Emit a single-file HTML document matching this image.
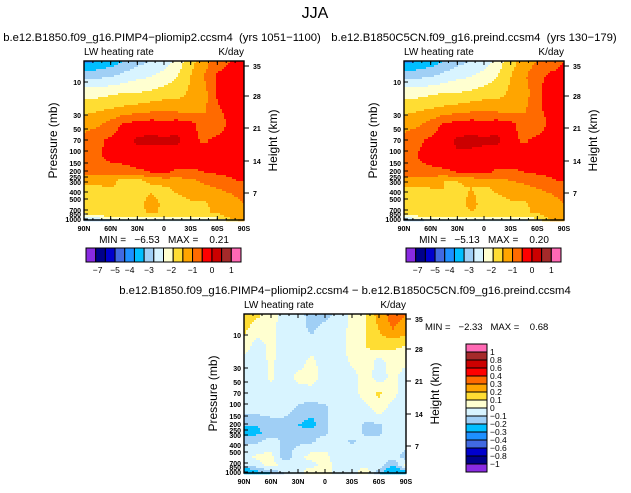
<!DOCTYPE html>
<html><head><meta charset="utf-8"><style>
body{margin:0;background:#fff;width:631px;height:493px;overflow:hidden;position:relative;font-family:"Liberation Sans",sans-serif}
text{white-space:pre}
</style></head><body>
<svg id="s" width="631" height="493" style="position:absolute;left:0;top:0" font-family="Liberation Sans, sans-serif"></svg>
<script>
const colors=["#8a2be2","#00008b","#0000cd","#4169e1","#1e90ff","#00bfff","#a0cff5","#d8f4ff","#ffffd0","#ffdd33","#ffa500","#ff6a00","#ff0000","#cc0000","#a52a2a","#ff69b4"];
const boundsTop=[-7,-6,-5,-4.5,-4,-3.5,-3,-2.5,-2,-1.5,-1,-0.5,0,0.5,1];
const boundsDiff=[-1,-0.8,-0.6,-0.4,-0.3,-0.2,-0.1,0,0.1,0.2,0.3,0.4,0.6,0.8,1];
const topLabels=["-7","-5","-4","-3","-2","-1","0","1"];
const diffLabels=["1","0.8","0.6","0.4","0.3","0.2","0.1","0","-0.1","-0.2","-0.3","-0.4","-0.6","-0.8","-1"];
const latLabels=["90N","60N","30N","0","30S","60S","90S"];
const presLabels=["10","30","50","70","100","150","200","250","300","400","500","700","850","1000"];
const presPos=[21,54,68,79,90,102,110,116,121,131,138,149,153,158];
const hgtLabels=["35","28","21","14","7"];
const hgtPos=[5,35,67,100,132];
const rowPos=[0,16,32,48,64,80,96,112,120,128,144,152,157,160];
const fieldA=[
[-4.2,-4,-3.8,-3.5,-3.2,-3,-2.8,-2.3,-1.7,-1.2,-0.8,-0.5,-0.3],
[-3.2,-3.1,-3,-2.8,-2.6,-2.5,-2.3,-2,-1.5,-1,-0.4,-0.2,-0.2],
[-2.2,-2.2,-2.1,-2,-2,-1.9,-1.8,-1.7,-1.4,-1.2,-0.4,-0.2,-0.2],
[-1.7,-1.6,-1.5,-1.4,-1.3,-1.2,-1.1,-1.2,-1.3,-1.1,-0.6,-0.2,-0.2],
[-1.2,-1.1,-0.8,-0.4,-0.3,-0.2,-0.3,-0.2,-0.3,-0.8,-0.9,-0.3,-0.2],
[-0.8,-0.6,-0.4,-0.2,0.1,0.1,0.1,0.1,-0.3,-0.6,-0.3,-0.2,-0.2],
[-0.7,-0.6,-0.3,-0.3,-0.2,-0.2,-0.3,-0.2,-0.2,-0.2,-0.2,-0.2,-0.2],
[-0.8,-0.8,-0.8,-0.7,-0.6,-0.5,-0.4,-0.6,-0.6,-0.5,-0.4,-0.3,-0.3],
[-1.3,-1.3,-1.4,-1.6,-1.6,-1.4,-1.2,-1.2,-1.1,-0.9,-0.8,-0.6,-0.4],
[-1.6,-1.6,-1.5,-1.6,-1.7,-1.6,-1.6,-1.4,-1.2,-1.1,-1.0,-0.9,-0.8],
[-1.7,-1.6,-1.7,-1.8,-1.7,-1.3,-1.6,-1.7,-1.6,-1.6,-1.3,-1.2,-1.0],
[-1.8,-1.6,-1.7,-1.8,-1.7,-1.4,-1.6,-1.7,-1.6,-1.6,-1.4,-1.2,-1.0],
[-2.4,-2.2,-2.0,-2.0,-1.9,-1.9,-1.9,-1.9,-2.0,-2.1,-1.8,-1.3,-1.0],
[-3.5,-3.2,-3,-2.6,-2.6,-2.6,-2.6,-2.6,-2.6,-2.6,-2.4,-1.8,-1.2]];
const fieldB=[
[-4.2,-4,-3.8,-3.5,-3.2,-3,-2.8,-2.3,-1.7,-1.3,-1.0,-0.7,-0.5],
[-3.2,-3.1,-3,-2.8,-2.6,-2.5,-2.3,-2,-1.5,-1.1,-0.6,-0.4,-0.4],
[-2.2,-2.2,-2.1,-2,-2,-1.9,-1.8,-1.7,-1.4,-1.3,-0.6,-0.3,-0.3],
[-1.7,-1.6,-1.5,-1.4,-1.3,-1.2,-1.1,-1.2,-1.3,-1.1,-0.6,-0.3,-0.2],
[-1.2,-1.1,-0.8,-0.4,-0.3,-0.2,-0.3,-0.2,-0.3,-0.8,-0.9,-0.3,-0.2],
[-0.8,-0.6,-0.4,-0.2,0.1,0.1,0.1,0.1,-0.3,-0.6,-0.3,-0.2,-0.2],
[-0.6,-0.5,-0.2,-0.2,-0.1,-0.1,-0.2,-0.2,-0.2,-0.2,-0.2,-0.2,-0.2],
[-0.7,-0.7,-0.7,-0.6,-0.5,-0.4,-0.4,-0.6,-0.6,-0.5,-0.4,-0.3,-0.3],
[-1.2,-1.2,-1.3,-1.5,-1.5,-1.3,-1.1,-1.1,-1.0,-0.9,-0.8,-0.6,-0.4],
[-1.6,-1.6,-1.5,-1.5,-1.6,-1.5,-1.6,-1.4,-1.2,-1.1,-1.0,-0.9,-0.8],
[-1.7,-1.6,-1.7,-1.8,-1.7,-1.4,-1.6,-1.7,-1.6,-1.6,-1.3,-1.2,-1.0],
[-1.8,-1.6,-1.7,-1.8,-1.7,-1.5,-1.6,-1.7,-1.6,-1.6,-1.4,-1.2,-1.0],
[-2.3,-2.1,-2.0,-2.0,-1.9,-1.9,-1.9,-1.9,-2.0,-2.1,-1.8,-1.3,-1.0],
[-3.2,-3.1,-2.9,-2.6,-2.6,-2.6,-2.6,-2.6,-2.6,-2.6,-2.2,-1.5,-1.0]];
const fieldD=[
[0.15,0.12,0.05,-0.05,-0.05,-0.15,-0.15,-0.05,0.02,0.1,0.25,0.35,0.3],
[0.12,0.05,0.03,-0.05,-0.05,-0.12,-0.05,-0.05,0.03,0.1,0.2,0.3,0.25],
[0.05,-0.05,0.03,-0.05,-0.05,-0.05,-0.05,-0.05,0.05,0.1,0.15,0.12,0.1],
[-0.05,-0.05,0.02,-0.05,-0.05,0.03,-0.05,-0.05,0.02,0.08,-0.05,0.05,0.02],
[-0.05,-0.05,0.02,-0.05,0.03,0.05,-0.05,-0.05,-0.05,0.05,-0.05,0.03,-0.05],
[-0.05,-0.05,-0.05,-0.05,-0.05,-0.05,-0.05,-0.05,-0.05,0.05,0.12,0.03,-0.05],
[-0.05,-0.05,-0.05,-0.05,-0.12,-0.15,-0.12,-0.05,-0.05,-0.05,0.05,-0.05,-0.05],
[-0.2,-0.2,-0.15,-0.15,-0.2,-0.25,-0.12,-0.05,-0.05,-0.12,-0.12,-0.05,-0.05],
[-0.25,-0.22,-0.15,-0.12,-0.15,-0.12,-0.12,-0.05,-0.05,-0.12,-0.12,-0.05,-0.05],
[-0.12,-0.12,-0.05,-0.12,-0.12,-0.12,-0.05,-0.05,-0.12,-0.05,-0.05,-0.05,-0.05],
[-0.05,0.03,0.03,-0.15,-0.05,0.05,0.03,-0.05,-0.05,-0.05,-0.05,-0.05,-0.15],
[-0.05,-0.05,0.05,-0.05,-0.05,-0.05,0.05,-0.05,-0.05,-0.05,-0.05,-0.2,0.05],
[-0.3,-0.15,-0.1,-0.05,-0.05,0.05,0.05,-0.05,-0.05,0.05,-0.1,-0.3,-0.2],
[-0.3,-0.3,-0.2,-0.1,-0.05,0.05,0.05,-0.05,-0.05,0.05,-0.2,-0.3,-0.3]];

const S=document.getElementById('s'),NS="http://www.w3.org/2000/svg";
function el(t,a,p){const e=document.createElementNS(NS,t);for(const k in a)e.setAttribute(k,a[k]);(p||S).appendChild(e);return e;}
function txt(x,y,s,sz,anchor,name,rot,bold){const e=el('text',{x:x,y:y,'font-size':sz,'text-anchor':anchor||'start',fill:'#000'});if(bold)e.setAttribute('font-weight','bold');e.textContent=s;if(rot)e.setAttribute('transform','rotate(-90 '+x+' '+y+')');


return e;}
function colorOf(v,b){let i=0;while(i<b.length&&v>=b[i])i++;return colors[i];}
function sample(f,fx,py){const C=f[0].length-1;const x=fx*C;const i=Math.min(Math.floor(x),C-1),u=x-i;
 let j=0;while(j<rowPos.length-2&&py>rowPos[j+1])j++;const v=Math.min(1,Math.max(0,(py-rowPos[j])/(rowPos[j+1]-rowPos[j])));
 return f[j][i]*(1-u)*(1-v)+f[j][i+1]*u*(1-v)+f[j+1][i]*(1-u)*v+f[j+1][i+1]*u*v;}
function panel(name,x0,y0,w,h,f,b,title,tx){
 const g=el('g',{});
 
 
 const st=2;
 for(let yy=0;yy<h;yy+=st)for(let xx=0;xx<w;xx+=st){
  const v=sample(f,(xx+1)/w,(yy+1)*160/h);
  el('rect',{x:x0+xx,y:y0+yy,width:st+0.3,height:st+0.3,fill:colorOf(v,b)},g);}
 const fr=el('rect',{x:x0,y:y0,width:w,height:h,fill:'none',stroke:'#000','stroke-width':1.4});
 
 
 if(title)txt(tx,y0-20,title,11.3,'middle',name+'-title');
 txt(x0,y0-6,'LW heating rate',10,'start',name+'-field-label');
 txt(x0+w,y0-6,'K/day',10,'end',name+'-units');
 latLabels.forEach((l,i)=>{const x=x0+w*i/6;txt(x,y0+h+11,l,7,'middle','lat-tick-label',false,true);
  el('line',{x1:x,y1:y0+h,x2:x,y2:y0+h-4,stroke:'#000'});el('line',{x1:x,y1:y0,x2:x,y2:y0+4,stroke:'#000'});});
 for(let i=0;i<=18;i++){const x=x0+w*i/18;el('line',{x1:x,y1:y0,x2:x,y2:y0+2,stroke:'#000'});el('line',{x1:x,y1:y0+h,x2:x,y2:y0+h-2,stroke:'#000'});}
 presLabels.forEach((l,i)=>{const y=y0+presPos[i]*h/159;txt(x0-3,y+3,l,7,'end','pressure-tick-label',false,true);el('line',{x1:x0,y1:y,x2:x0+4,y2:y,stroke:'#000'});});
 hgtLabels.forEach((l,i)=>{const y=y0+hgtPos[i]*h/159;txt(x0+w+9,y+3,l,7,'start','height-tick-label',false,true);el('line',{x1:x0+w,y1:y,x2:x0+w+5,y2:y,stroke:'#000'});});
 txt(x0-27,y0+h/2,'Pressure (mb)',12,'middle','y-axis-title',true);
 txt(x0+w+33,y0+h/2,'Height (km)',12,'middle','y2-axis-title',true);
}
txt(315,18,'JJA',16,'middle','main-title');
panel('panel-pliomip',84,61,160,159,fieldA,boundsTop,'b.e12.B1850.f09_g16.PIMP4\u2212pliomip2.ccsm4  (yrs 1051\u22121100)',162);
panel('panel-preind',404,61,160,159,fieldB,boundsTop,'b.e12.B1850C5CN.f09_g16.preind.ccsm4  (yrs 130\u2212179)',474);
panel('panel-diff',244,314,162,159,fieldD,boundsDiff,'b.e12.B1850.f09_g16.PIMP4\u2212pliomip2.ccsm4 \u2212 b.e12.B1850C5CN.f09_g16.preind.ccsm4',345);
txt(164,243,'MIN =   \u22126.53   MAX =    0.21',10,'middle','min-max-left');
txt(484,243,'MIN =   \u22125.13   MAX =    0.20',10,'middle','min-max-right');
txt(425,330,'MIN =   \u22122.33   MAX =    0.68',9.5,'start','min-max-diff');
function hbar(name,x0){
 const bw=155/16;
 colors.forEach((c,i)=>{const r=el('rect',{x:x0+i*bw,y:248,width:bw,height:14,fill:c,stroke:'#000','stroke-width':1});
 
 });
 topLabels.forEach((l,i)=>{txt(x0+[1.2,3,4.5,6.5,8.8,11,13,15][i]*bw,273,l.replace('-','\u2212'),8.5,'middle',name+'-label');});
}
hbar('colorbar-left',86);
hbar('colorbar-right',406);
const vb=128/16;
colors.slice().reverse().forEach((c,i)=>{const r=el('rect',{x:466,y:344+i*vb,width:21,height:vb,fill:c,stroke:'#000','stroke-width':1});
 
 });
diffLabels.forEach((l,i)=>{txt(490,344+(i+1)*vb+3,l.replace('-','\u2212'),8.5,'start','colorbar-diff-label');});
</script>
</body></html>
